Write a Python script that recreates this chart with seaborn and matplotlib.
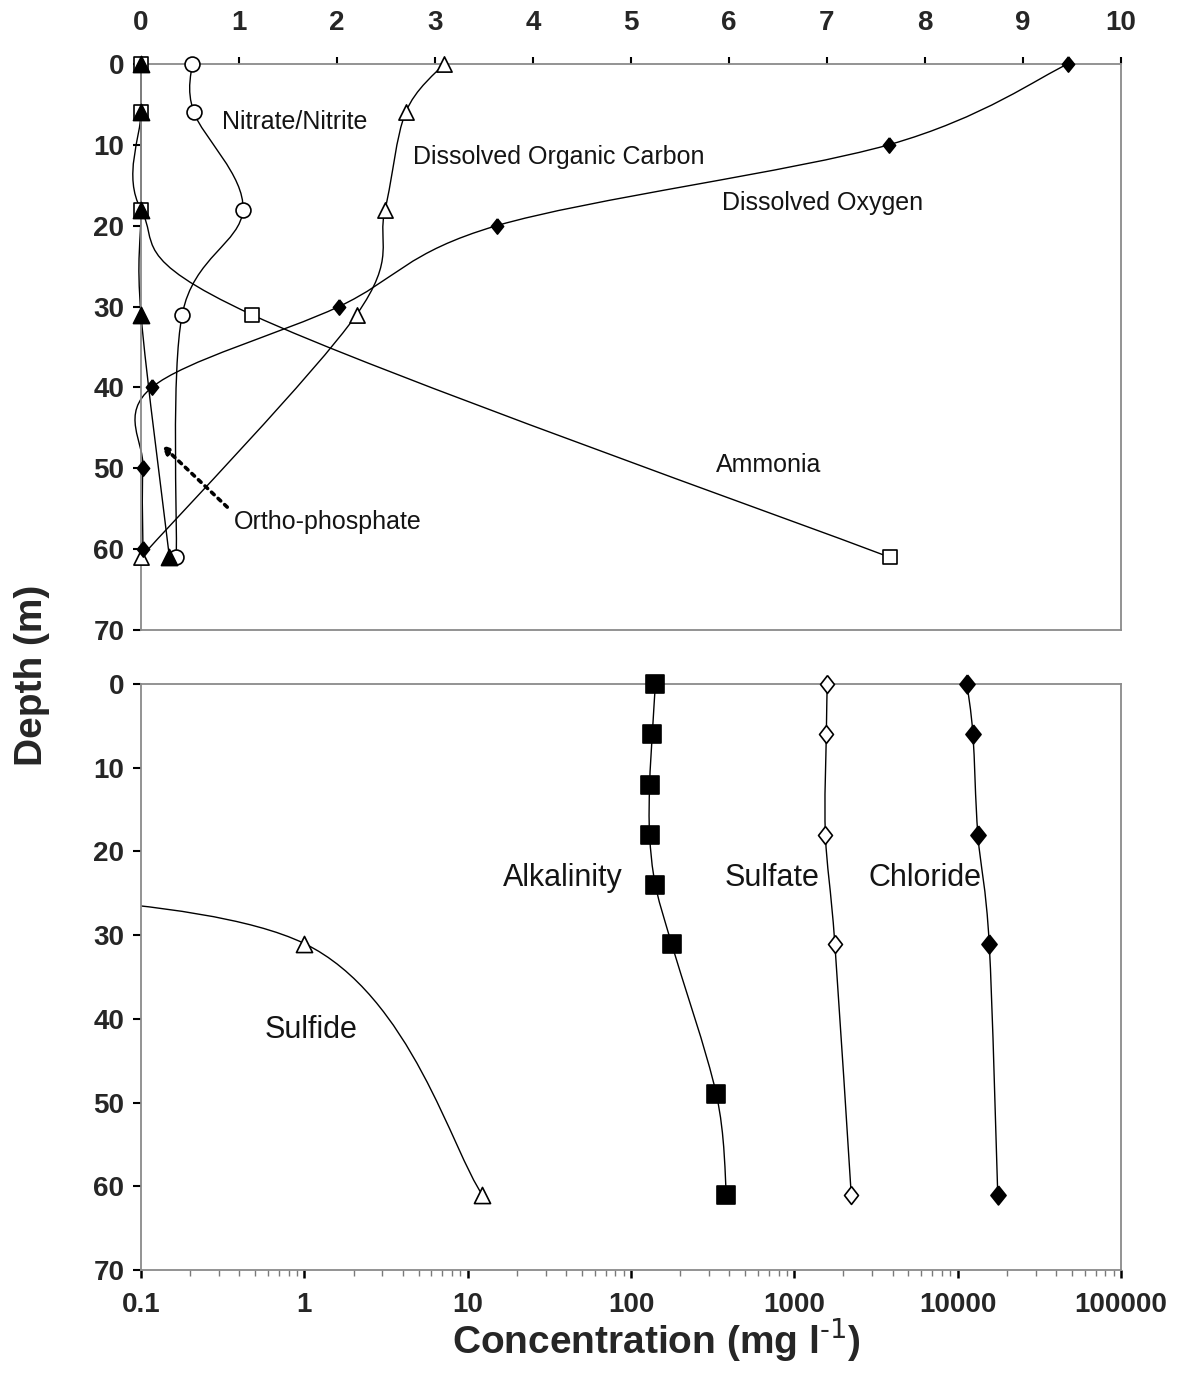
import numpy as np
import matplotlib
matplotlib.use("Agg")
import matplotlib.pyplot as plt
from matplotlib.path import Path
from matplotlib.patches import PathPatch
from matplotlib.ticker import FixedLocator, NullFormatter, LogLocator
import seaborn as sns

# ---------------- data ----------------
# top panel (linear concentration, mg/l)
depth_std = [0, 6, 18, 31, 61]
do_depth = [0, 10, 20, 30, 40, 50, 60]
do_vals = [9.46, 7.63, 3.63, 2.02, 0.11, 0.02, 0.02]          # Dissolved Oxygen
doc_vals = [3.09, 2.70, 2.49, 2.20, 0.0]                        # Dissolved Organic Carbon
nitrate_vals = [0.52, 0.54, 1.04, 0.42, 0.36]                   # Nitrate/Nitrite
ammonia_vals = [0.0, 0.0, 0.0, 1.13, 7.64]                      # Ammonia
phosphate_vals = [0.0, 0.0, 0.0, 0.0, 0.29]                     # Ortho-phosphate

# bottom panel (log concentration, mg/l)
alk_depth = [0, 6, 12, 18, 24, 31, 49, 61]
alk_vals = [141, 135, 130, 130, 141, 177, 333, 384]             # Alkalinity
sulfate_vals = [1590, 1570, 1550, 1770, 2230]                   # Sulfate
chloride_vals = [11400, 12400, 13300, 15600, 17600]             # Chloride
sulfide_depth = [24, 31, 61]
sulfide_vals = [0.0015, 1.0, 12.3]                              # Sulfide

top_ticks = [0, 1, 2, 3, 4, 5, 6, 7, 8, 9, 10]
depth_ticks = [0, 10, 20, 30, 40, 50, 60, 70]
log_ticks = [0.1, 1, 10, 100, 1000, 10000, 100000]
log_tick_labels = ["0.1", "1", "10", "100", "1000", "10000", "100000"]

# ---------------- style ----------------
sns.set_theme(style="white")
plt.rcParams["font.family"] = ["Liberation Sans", "DejaVu Sans"]
plt.rcParams["mathtext.default"] = "regular"

SPINE = "#8a8a8a"
LW = 1.0


def smooth_path(xs, ys, logx=False):
    """Excel-like smoothed line: Catmull-Rom converted to cubic Bezier."""
    X = np.log10(np.asarray(xs, float)) if logx else np.asarray(xs, float)
    P = np.column_stack([X, np.asarray(ys, float)])
    n = len(P)
    verts = [P[0]]
    codes = [Path.MOVETO]
    for i in range(n - 1):
        p0 = P[i - 1] if i > 0 else P[i]
        p1 = P[i]
        p2 = P[i + 1]
        p3 = P[i + 2] if i + 2 < n else P[i + 1]
        c1 = p1 + (p2 - p0) / 6.0
        c2 = p2 - (p3 - p1) / 6.0
        verts += [c1, c2, p2]
        codes += [Path.CURVE4] * 3
    V = np.array(verts)
    if logx:
        V[:, 0] = 10 ** V[:, 0]
    return Path(V, codes)


def draw_curve(ax, xs, ys, logx=False, clip=True):
    patch = PathPatch(smooth_path(xs, ys, logx), facecolor="none",
                      edgecolor="black", lw=LW, zorder=2, clip_on=clip)
    ax.add_patch(patch)


diamond = [(0, 1), (0.8, 0), (0, -1), (-0.8, 0), (0, 1)]
thin_diamond = [(0, 1), (0.78, 0), (0, -1), (-0.78, 0), (0, 1)]


def markers(ax, xs, ys, marker, s, filled):
    sns.scatterplot(x=xs, y=ys, ax=ax, marker=marker, s=s,
                    color="black" if filled else "white",
                    edgecolor="black", linewidth=1.2, zorder=4,
                    clip_on=False, legend=False)


fig = plt.figure(figsize=(11.79, 13.75), dpi=100)
ax1 = fig.add_axes([0.1196, 0.5418, 0.8312, 0.4117])
ax2 = fig.add_axes([0.1196, 0.0764, 0.8312, 0.4261])

# ---------------- top panel ----------------
draw_curve(ax1, ammonia_vals, depth_std, clip=False)
draw_curve(ax1, phosphate_vals, depth_std, clip=False)
draw_curve(ax1, nitrate_vals, depth_std, clip=False)
draw_curve(ax1, doc_vals, depth_std, clip=False)
draw_curve(ax1, do_vals, do_depth, clip=False)

markers(ax1, ammonia_vals, depth_std, "s", 100, False)
markers(ax1, nitrate_vals, depth_std, "o", 115, False)
markers(ax1, doc_vals, depth_std, "^", 120, False)
markers(ax1, do_vals, do_depth, diamond, 120, True)
markers(ax1, phosphate_vals, depth_std, "^", 135, True)

ax1.set_xlim(0, 10)
ax1.set_ylim(70, 0)
ax1.xaxis.set_major_locator(FixedLocator(top_ticks))
ax1.yaxis.set_major_locator(FixedLocator(depth_ticks))
ax1.tick_params(axis="x", which="both", top=True, bottom=False,
                labeltop=True, labelbottom=False, direction="out",
                length=5, width=1.5, color="black", pad=15, labelsize=20)
ax1.tick_params(axis="y", which="both", left=True, right=False,
                direction="out", length=6, width=1.5, color="black",
                pad=6, labelsize=20)
ax1.set_xlabel("")
ax1.set_ylabel("")

txt1 = dict(fontsize=18, ha="left", va="center", color="#141414")
ax1.text(0.83, 7.2, "Nitrate/Nitrite", **txt1)
ax1.text(2.78, 11.5, "Dissolved Organic Carbon", **txt1)
ax1.text(5.93, 17.2, "Dissolved Oxygen", **txt1)
ax1.text(5.87, 49.6, "Ammonia", **txt1)
ax1.text(0.95, 56.6, "Ortho-phosphate", **txt1)
ax1.annotate("", xy=(0.21, 47.1), xytext=(0.88, 54.8),
             arrowprops=dict(arrowstyle="-|>,head_length=0.4,head_width=0.18",
                             linestyle=(0, (1, 1.5)), lw=2.6, color="black",
                             shrinkA=0, shrinkB=0))

# ---------------- bottom panel ----------------
ax2.set_xscale("log")
draw_curve(ax2, sulfide_vals, sulfide_depth, logx=True, clip=True)
draw_curve(ax2, alk_vals, alk_depth, logx=True)
draw_curve(ax2, sulfate_vals, depth_std, logx=True)
draw_curve(ax2, chloride_vals, depth_std, logx=True)

markers(ax2, sulfide_vals[1:], sulfide_depth[1:], "^", 135, False)
markers(ax2, alk_vals, alk_depth, "s", 155, True)
markers(ax2, sulfate_vals, depth_std, thin_diamond, 165, False)
markers(ax2, chloride_vals, depth_std, diamond, 185, True)

ax2.set_xlim(0.1, 100000)
ax2.set_ylim(70, 0)
ax2.xaxis.set_major_locator(FixedLocator(log_ticks))
ax2.set_xticklabels(log_tick_labels)
ax2.xaxis.set_minor_locator(LogLocator(base=10, subs=np.arange(2, 10)))
ax2.xaxis.set_minor_formatter(NullFormatter())
ax2.yaxis.set_major_locator(FixedLocator(depth_ticks))
ax2.tick_params(axis="x", which="major", bottom=True, top=False,
                direction="out", length=6, width=1.8, color="black",
                pad=10, labelsize=20)
ax2.tick_params(axis="x", which="minor", bottom=True, top=False,
                direction="out", length=4, width=1.0, color="#7a7a7a")
ax2.tick_params(axis="y", which="both", left=True, right=False,
                direction="out", length=6, width=1.5, color="black",
                pad=6, labelsize=20)
ax2.set_xlabel("")
ax2.set_ylabel("")

txt2 = dict(fontsize=22, ha="left", va="center", color="#141414")
ax2.text(0.575, 41.3, "Sulfide", **txt2)
ax2.text(16.5, 23.2, "Alkalinity", **txt2)
ax2.text(374, 23.2, "Sulfate", **txt2)
ax2.text(2850, 23.2, "Chloride", **txt2)

for ax in (ax1, ax2):
    for sp in ax.spines.values():
        sp.set_visible(True)
        sp.set_color(SPINE)
        sp.set_linewidth(1.3)
    for lab in ax.get_xticklabels() + ax.get_yticklabels():
        lab.set_fontweight("bold")
    ax.set_facecolor("white")

fig.text(0.027, 0.509, "Depth (m)", rotation=90, ha="center", va="center",
         fontsize=28, fontweight="bold")
fig.text(0.557, 0.0255, r"Concentration (mg l$^{\text{-1}}$)", ha="center",
         va="center", fontsize=28, fontweight="bold")

fig.savefig("out.png", dpi=100, facecolor="white")
